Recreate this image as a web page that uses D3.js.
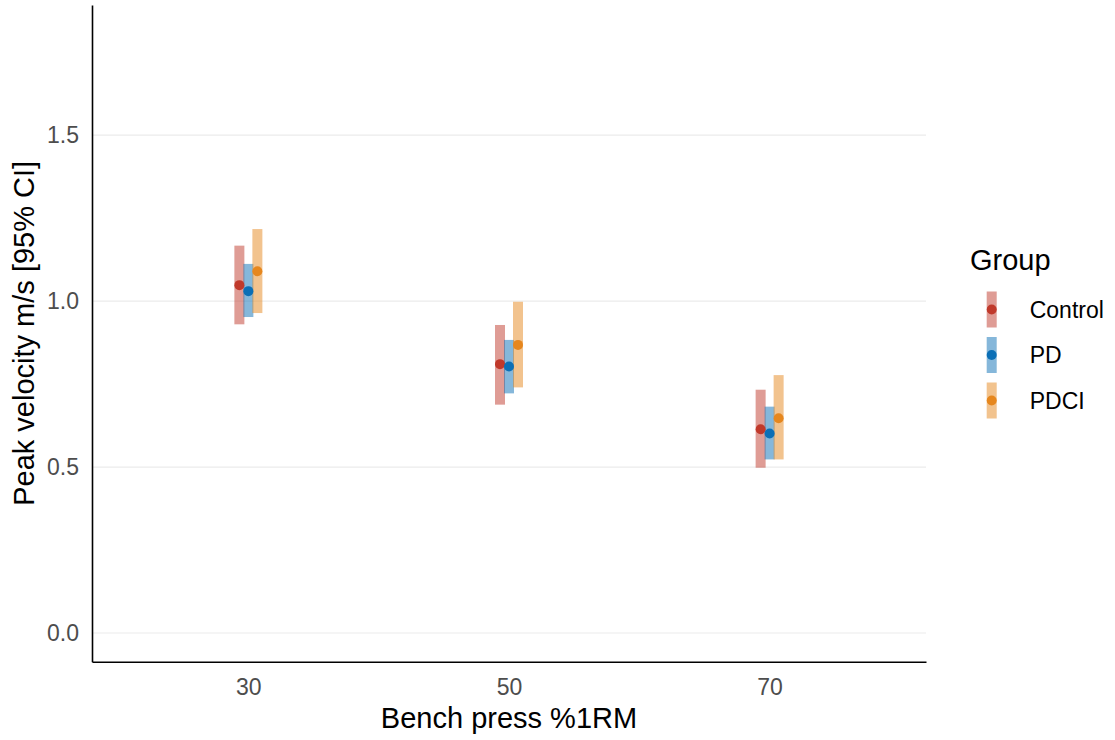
<!DOCTYPE html>
<html>
<head>
<meta charset="utf-8">
<script src="https://cdn.jsdelivr.net/npm/d3@7"></script>
<style>
  body { margin: 0; background: #fff; }
  svg { font-family: "Liberation Sans", Arial, sans-serif; }
</style>
</head>
<body>
<svg id="chart" width="1115" height="740"></svg>
<script>
// ── Data ───────────────────────────────────────────────────
const loads   = [30, 50, 70];
const groups  = ['Control', 'PD', 'PDCI'];
const colours = ['#c0392b', '#0b6fb6', '#e6871e'];

// mean, lower, upper per group, in load order
const means = [
  [1.048, 0.810, 0.614],
  [1.030, 0.803, 0.601],
  [1.090, 0.868, 0.647]
];
const lower = [
  [0.930, 0.688, 0.498],
  [0.952, 0.722, 0.523],
  [0.964, 0.740, 0.523]
];
const upper = [
  [1.167, 0.928, 0.733],
  [1.112, 0.883, 0.682],
  [1.217, 0.998, 0.777]
];
const yTicks = [0, 0.5, 1.0, 1.5];

// ── Layout ─────────────────────────────────────────────────
const P = { left: 92, right: 926, top: 5, bottom: 661.7 };
const DODGE = 9;     // px between groups
const BAR_W = 10;
const DOT_R = 5;

const svg = d3.select('#chart');

const x = d3.scaleLinear().domain([18, 82]).range([P.left, P.right]);
const y = d3.scaleLinear().domain([-0.0864, 1.892]).range([P.bottom, P.top]);

// grid
svg.append('g')
  .selectAll('line')
  .data(yTicks)
  .enter()
  .append('line')
  .attr('x1', P.left).attr('x2', P.right)
  .attr('y1', d => y(d)).attr('y2', d => y(d))
  .attr('stroke', '#ebebeb')
  .attr('stroke-width', 1.2);

// flat rows
const rows = [];
groups.forEach((g, gi) => {
  loads.forEach((l, li) => {
    rows.push({ group: g, gi, load: l, mean: means[gi][li], lo: lower[gi][li], hi: upper[gi][li] });
  });
});

// CI bars
svg.append('g')
  .selectAll('rect')
  .data(rows)
  .enter()
  .append('rect')
  .attr('x', d => x(d.load) + (d.gi - 1) * DODGE - BAR_W / 2)
  .attr('width', BAR_W)
  .attr('y', d => y(d.hi))
  .attr('height', d => y(d.lo) - y(d.hi))
  .attr('fill', d => colours[d.gi])
  .attr('fill-opacity', 0.5);

// points
svg.append('g')
  .selectAll('circle')
  .data(rows)
  .enter()
  .append('circle')
  .attr('cx', d => x(d.load) + (d.gi - 1) * DODGE)
  .attr('cy', d => y(d.mean))
  .attr('r', DOT_R)
  .attr('fill', d => colours[d.gi]);

// axes
const yAxis = svg.append('g')
  .attr('transform', `translate(${P.left},0)`)
  .call(d3.axisLeft(y).tickValues(yTicks).tickFormat(d3.format('.1f')).tickSize(0).tickPadding(13));
const xAxis = svg.append('g')
  .attr('transform', `translate(0,${P.bottom})`)
  .call(d3.axisBottom(x).tickValues(loads).tickSize(0).tickPadding(17));

[xAxis, yAxis].forEach(a => {
  a.select('.domain').attr('stroke', '#000').attr('stroke-width', 1.6);
  a.selectAll('text')
    .attr('fill', '#4d4d4d')
    .style('font-size', '23px')
    .style('font-family', '"Liberation Sans", Arial, sans-serif');
});

// axis titles
svg.append('text')
  .attr('x', (P.left + P.right) / 2)
  .attr('y', 728)
  .attr('text-anchor', 'middle')
  .style('font-size', '29px')
  .text('Bench press %1RM');

svg.append('text')
  .attr('transform', `translate(34,${(P.top + P.bottom) / 2}) rotate(-90)`)
  .attr('text-anchor', 'middle')
  .style('font-size', '29px')
  .text('Peak velocity m/s [95% CI]');

// ── Legend ─────────────────────────────────────────────────
const legend = svg.append('g');
legend.append('text')
  .attr('x', 970)
  .attr('y', 270)
  .style('font-size', '29px')
  .text('Group');

const keys = legend.selectAll('.key')
  .data(groups)
  .enter()
  .append('g')
  .attr('transform', (d, i) => `translate(991.7,${309.5 + i * 45.5})`);

keys.append('rect')
  .attr('x', -BAR_W / 2).attr('y', -18)
  .attr('width', BAR_W).attr('height', 36)
  .attr('fill', (d, i) => colours[i])
  .attr('fill-opacity', 0.5);
keys.append('circle')
  .attr('r', DOT_R)
  .attr('fill', (d, i) => colours[i]);
keys.append('text')
  .attr('x', 38)
  .attr('dy', '0.35em')
  .style('font-size', '23px')
  .text(d => d);
</script>
</body>
</html>
